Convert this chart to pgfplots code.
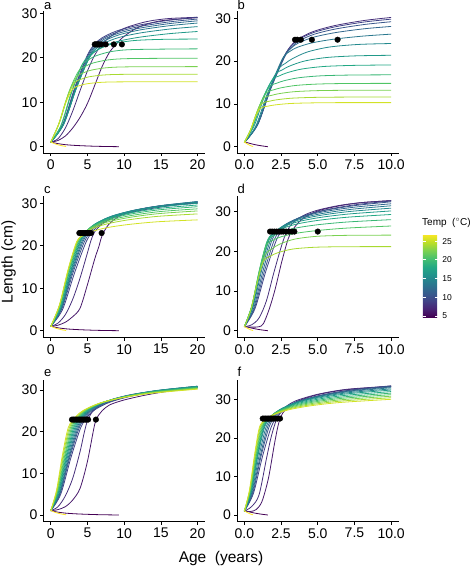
\documentclass[border=0pt]{standalone}
\usepackage{fontspec}
\setmainfont{Liberation Sans}
\usepackage{pgfplots}
\pgfplotsset{compat=1.18}
\definecolor{C0}{RGB}{68,1,84}
\definecolor{C1}{RGB}{71,24,106}
\definecolor{C2}{RGB}{70,47,123}
\definecolor{C3}{RGB}{65,68,135}
\definecolor{C4}{RGB}{57,86,139}
\definecolor{C5}{RGB}{49,103,141}
\definecolor{C6}{RGB}{42,120,142}
\definecolor{C7}{RGB}{35,137,141}
\definecolor{C8}{RGB}{33,153,137}
\definecolor{C9}{RGB}{34,168,132}
\definecolor{C10}{RGB}{57,183,117}
\definecolor{C11}{RGB}{80,197,101}
\definecolor{C12}{RGB}{122,209,81}
\definecolor{C13}{RGB}{168,218,48}
\definecolor{C14}{RGB}{210,226,38}
\definecolor{C15}{RGB}{253,231,37}
\pgfplotsset{colormap={vir}{rgb255=(68,1,84) rgb255=(72,36,117) rgb255=(65,68,135) rgb255=(53,95,141) rgb255=(42,120,142) rgb255=(33,145,140) rgb255=(34,168,132) rgb255=(68,191,112) rgb255=(122,209,81) rgb255=(189,223,38) rgb255=(253,231,37)}}
\pgfplotsset{
 panel/.style={
  scale only axis, width=161.5pt, height=142pt,
  axis x line*=bottom, axis y line*=left,
  axis line style={-, line width=0.6pt, black},
  tick align=outside, major tick length=3pt,
  tick style={black, line width=0.6pt},
  ticklabel style={font=\fontsize{14}{14}\selectfont, text=black},
  yticklabel style={xshift=0.5pt},
  /pgf/number format/assume math mode=true,
  ytick={0,10,20,30},
 },
 panelA/.style={panel, xmin=-1, xmax=21, xtick={0,5,10,15,20}},
 panelB/.style={panel, xmin=-0.5, xmax=10.5, xtick={0,2.5,5,7.5,10}, xticklabels={0.0,2.5,5.0,7.5,10.0}},
 crv/.style={line width=0.8pt, smooth, no markers},
 dots/.style={only marks, mark=*, mark size=2.8pt, black},
}
\begin{document}
\begin{tikzpicture}
\useasboundingbox (0,0) rectangle (475pt,566pt);
% ---------------- panel a
\begin{axis}[panelA, at={(43.35pt,413pt)}, anchor=south west, ymin=-1.42, ymax=30.51]
\addplot[crv,C0] coordinates {(0,1.1) (0.5,0.85) (1,0.68) (2,0.45) (3,0.32) (4,0.23) (5,0.16) (6,0.1) (7,0.06) (8,0.03) (9.3,0)};
\addplot[crv,C1] coordinates {(0,1) (1,1.4) (2,2.4) (3,4.2) (4,6.6) (5,9.7) (6,13.8) (7,18.0) (8,21.2) (9,23.2) (10,24.8) (12,26.9) (15,28.3) (20,29.0)};
\addplot[crv,C2] coordinates {(0,1) (1,1.8) (2,4.2) (3,8.0) (4,12.6) (5,17.0) (6,20.6) (7,23.0) (8,24.6) (10,26.6) (13,28.1) (16,28.8) (20,29.1)};
\addplot[crv,C3] coordinates {(0,1) (1.67,5.12) (3.33,13.54) (5.0,20.6) (6,23.06) (7,24.48) (9,26.03) (12,27.32) (16,28.4) (20,29.1)};
\addplot[crv,C4] coordinates {(0,1) (1.7,5.12) (3.4,13.54) (5.1,20.6) (6.1,22.95) (7.1,24.3) (9.1,25.78) (12.1,27.02) (16.1,28.05) (20,28.7)};
\addplot[crv,C5] coordinates {(0,1) (1.73,5.1) (3.47,13.48) (5.2,20.5) (6.2,22.77) (7.2,24.07) (9.2,25.49) (12.2,26.68) (16.2,27.68) (20,28.3)};
\addplot[crv,C6] coordinates {(0,1) (1.77,5.07) (3.53,13.42) (5.3,20.4) (6.3,22.56) (7.3,23.79) (9.3,25.15) (12.3,26.29) (16.3,27.23) (20,27.8)};
\addplot[crv,C7] coordinates {(0,1) (1.77,5.03) (3.53,13.29) (5.3,20.2) (6.3,22.18) (7.3,23.32) (9.3,24.56) (12.3,25.6) (16.3,26.47) (20,27.0)};
\addplot[crv,C8] coordinates {(0,1) (1.73,4.95) (3.47,13.03) (5.2,19.8) (6.2,21.58) (7.2,22.59) (9.2,23.71) (12.2,24.64) (16.2,25.42) (20,25.9)};
\addplot[crv,C9] coordinates {(0,1) (1.47,4.92) (2.93,12.57) (4.4,18.8) (5.4,20.58) (6.4,21.78) (8.4,23.11) (11.4,23.87) (15.4,24.14) (20,24.2)};
\addplot[crv,C10] coordinates {(0,1) (1.4,4.78) (2.8,12.18) (4.2,18.2) (5.2,19.58) (6.2,20.45) (8.2,21.37) (11.2,21.84) (20,22.0)};
\addplot[crv,C11] coordinates {(0,1) (1.27,5.8) (2.53,12.52) (3.8,17.0) (4.8,18.14) (5.8,18.83) (7.8,19.51) (10.8,19.81) (20,19.9)};
\addplot[crv,C12] coordinates {(0,1) (1.17,5.38) (2.33,11.51) (3.5,15.6) (4.5,16.62) (5.5,17.2) (7.5,17.73) (10.5,17.95) (20,18.0)};
\addplot[crv,C13] coordinates {(0,1) (1.07,4.99) (2.13,10.58) (3.2,14.3) (4.2,15.2) (5.2,15.7) (7.2,16.12) (10.2,16.27) (20,16.3)};
\addplot[crv,C14] coordinates {(0,1) (1.0,4.6) (2.0,9.64) (3.0,13.0) (4,13.76) (5,14.16) (7,14.48) (10,14.58) (20,14.6)};
\addplot[crv,C15] coordinates {(0,1.1) (0.5,0.7) (1,0.42) (1.5,0.22) (2.1,0.05)};
\addplot[dots] coordinates {(6.0,23) (6.15,23) (6.3,23) (6.45,23) (6.6,23) (6.9,23) (7.5,23) (8.6,23) (9.7,23)};
\end{axis}
% ---------------- panel b
\begin{axis}[panelB, at={(237pt,413pt)}, anchor=south west, ymin=-1.47, ymax=31.71]
\addplot[crv,C0] coordinates {(0,1.2) (0.2,0.95) (0.4,0.75) (0.7,0.5) (1.0,0.3) (1.3,0.14) (1.6,0)};
\addplot[crv,C2] coordinates {(0,1) (0.9,5.2) (1.8,13.8) (2.7,21) (3.2,23.69) (3.7,25.23) (4.7,26.92) (6.2,28.33) (8.2,29.51) (10,30.2)};
\addplot[crv,C3] coordinates {(0,1) (0.9,5.2) (1.8,13.8) (2.7,21) (3.2,23.57) (3.7,25.05) (4.7,26.66) (6.2,28.02) (8.2,29.15) (10,29.8)};
\addplot[crv,C4] coordinates {(0,1) (0.92,5.2) (1.83,13.8) (2.75,21) (3.25,23.4) (3.75,24.77) (4.75,26.27) (6.25,27.53) (8.25,28.59) (10,29.2)};
\addplot[crv,C5] coordinates {(0,1) (0.9,5.2) (1.8,13.8) (2.7,21) (3.2,23.07) (3.7,24.26) (4.7,25.57) (6.2,26.66) (8.2,27.57) (10,28.1)};
\addplot[crv,C6] coordinates {(0,1) (0.87,5.12) (1.73,13.54) (2.6,20.6) (3.1,22.26) (3.6,23.21) (4.6,24.25) (6.1,25.13) (8.1,25.85) (10,26.3)};
\addplot[crv,C7] coordinates {(0,1) (0.77,4.74) (1.53,12.05) (2.3,18.0) (2.8,19.49) (3.3,20.62) (4.3,22.14) (5.8,23.29) (7.8,23.9) (10,24.11)};
\addplot[crv,C8] coordinates {(0,1) (0.7,5.11) (1.4,12.06) (2.1,16.8) (2.6,17.99) (3.1,18.87) (4.1,20.02) (5.6,20.84) (7.6,21.23) (10,21.36)};
\addplot[crv,C9] coordinates {(0,1) (0.63,5.09) (1.27,11.37) (1.9,15.6) (2.4,16.57) (2.9,17.27) (3.9,18.14) (5.4,18.74) (7.4,19.0) (10,19.1)};
\addplot[crv,C10] coordinates {(0,1) (0.57,4.9) (1.13,10.36) (1.7,14.0) (2.2,14.83) (2.7,15.41) (3.7,16.11) (5.2,16.56) (7.2,16.74) (10,16.8)};
\addplot[crv,C11] coordinates {(0,1) (0.5,4.48) (1.0,9.35) (1.5,12.6) (2.0,13.29) (2.5,13.76) (3.5,14.31) (5.0,14.64) (7.0,14.77) (10,14.8)};
\addplot[crv,C12] coordinates {(0,1) (0.45,4.12) (0.9,8.49) (1.35,11.4) (1.85,11.99) (2.35,12.39) (3.35,12.84) (4.85,13.09) (6.85,13.18) (10,13.2)};
\addplot[crv,C13] coordinates {(0,1) (0.4,3.73) (0.8,7.55) (1.2,10.1) (1.7,10.62) (2.2,10.96) (3.2,11.33) (4.7,11.52) (6.7,11.59) (10,11.6)};
\addplot[crv,C14] coordinates {(0,1) (0.37,3.4) (0.73,6.76) (1.1,9.0) (1.6,9.47) (2.1,9.77) (3.1,10.09) (4.6,10.24) (6.6,10.3) (10,10.3)};
\addplot[crv,C15] coordinates {(0,1.1) (0.15,0.75) (0.3,0.45) (0.45,0.2) (0.6,0.05)};
\addplot[dots] coordinates {(3.45,25) (3.6,25) (3.85,25) (4.6,25) (6.35,25)};
\end{axis}
% ---------------- panel c
\begin{axis}[panelA, at={(43.35pt,228.3pt)}, anchor=south west, ymin=-1.65, ymax=31.79]
\addplot[crv,C0] coordinates {(0,1.1) (0.5,0.85) (1,0.68) (2,0.45) (3,0.32) (4,0.23) (5,0.16) (6,0.1) (7,0.06) (8,0.03) (9.3,0)};
\addplot[crv,C1] coordinates {(0,1) (1,1.3) (2,2.0) (3,3.3) (4,5.3) (5,10.8) (6,16.9) (6.6,20.0) (7,22.4) (8,25.2) (10,27.6) (13,28.9) (16,29.6) (20,30.0)};
\addplot[crv,C2] coordinates {(0,1) (1,1.8) (2,3.8) (3,7.4) (4,12.4) (5,18.3) (5.5,21.3) (6,23.3) (7,25.1) (9,27.0) (12,28.4) (16,29.5) (20,30.1)};
\addplot[crv,C3] coordinates {(0,1) (1.62,5.0) (3.23,13.5) (4.85,21) (5.85,23.63) (6.85,25.14) (8.85,26.79) (11.85,28.18) (15.85,29.33) (20,30.2)};
\addplot[crv,C4] coordinates {(0,1) (1.53,5.2) (3.07,13.8) (4.6,21) (5.6,23.66) (6.6,25.18) (8.6,26.85) (11.6,28.25) (15.6,29.42) (20,30.3)};
\addplot[crv,C5] coordinates {(0,1) (1.47,5.2) (2.93,13.8) (4.4,21) (5.4,23.69) (6.4,25.23) (8.4,26.92) (11.4,28.33) (15.4,29.51) (20,30.4)};
\addplot[crv,C6] coordinates {(0,1) (1.42,5.2) (2.83,13.8) (4.25,21) (5.25,23.69) (6.25,25.23) (8.25,26.92) (11.25,28.33) (15.25,29.51) (20,30.4)};
\addplot[crv,C7] coordinates {(0,1) (1.37,5.2) (2.73,13.8) (4.1,21) (5.1,23.66) (6.1,25.18) (8.1,26.85) (11.1,28.25) (15.1,29.42) (20,30.3)};
\addplot[crv,C8] coordinates {(0,1) (1.33,5.2) (2.67,13.8) (4.0,21) (5,23.59) (6,25.08) (8,26.7) (11,28.07) (15,29.2) (20,30.0)};
\addplot[crv,C9] coordinates {(0,1) (1.3,5.6) (2.6,14.1) (3.9,21) (4.9,23.47) (5.9,24.89) (7.9,26.45) (10.9,27.75) (14.9,28.83) (20,29.6)};
\addplot[crv,C10] coordinates {(0,1) (1.27,5.6) (2.53,14.1) (3.8,21) (4.8,23.36) (5.8,24.71) (7.8,26.2) (10.8,27.44) (14.8,28.47) (20,29.2)};
\addplot[crv,C11] coordinates {(0,1) (1.23,6.0) (2.47,14.4) (3.7,21) (4.7,23.22) (5.7,24.49) (7.7,25.88) (10.7,27.04) (14.7,28.02) (20,28.7)};
\addplot[crv,C12] coordinates {(0,1) (1.22,6.0) (2.43,14.4) (3.65,21) (4.65,23.07) (5.65,24.26) (7.65,25.56) (10.65,26.65) (14.65,27.56) (20,28.2)};
\addplot[crv,C13] coordinates {(0,1) (1.2,6.0) (2.4,14.4) (3.6,21) (4.6,22.87) (5.6,23.95) (7.6,25.12) (10.6,26.11) (14.6,26.93) (20,27.5)};
\addplot[crv,C14] coordinates {(0,1) (1.18,6.0) (2.37,14.4) (3.55,21) (4.55,22.47) (5.55,23.31) (7.55,24.23) (10.55,25.0) (14.55,25.65) (20,26.1)};
\addplot[crv,C15] coordinates {(0,1.1) (0.5,0.7) (1,0.42) (1.5,0.22) (2.1,0.05)};
\addplot[dots] coordinates {(3.9,23) (4.1,23) (4.3,23) (4.5,23) (4.7,23) (4.9,23) (5.1,23) (5.3,23) (5.5,23) (6.94,23)};
\end{axis}
% ---------------- panel d (with colour bar)
\begin{axis}[panelB, at={(237pt,228.3pt)}, anchor=south west, ymin=-1.76, ymax=34.04,
  colormap name=vir, point meta min=4.7, point meta max=26.9,
  colorbar, colorbar shift/.style={xshift=0pt},
  colorbar style={scale only axis, width=16pt, height=83pt, at={(1.201,0.438)}, anchor=center,
    axis lines=box, axis line style={draw=none}, xtick=\empty, xticklabels={},
    ytick={5,10,15,20,25}, yticklabels={5,10,15,20,25}, yticklabel pos=right, ytick pos=both,
    tick align=inside, major tick length=3.5pt, ytick style={white, line width=0.6pt},
    yticklabel style={font=\fontsize{8.5}{8.5}\selectfont, text=black},
    /pgf/number format/assume math mode=true}]
\addplot[crv,C0] coordinates {(0,1.2) (0.2,0.95) (0.4,0.75) (0.7,0.5) (1.0,0.3) (1.3,0.14) (1.6,0)};
\addplot[crv,C1] coordinates {(0,1) (0.5,0.9) (1,1.0) (1.3,1.8) (1.7,5.5) (2.1,10.5) (2.55,17.4) (3.0,23.3) (3.4,26.0) (4,28.3) (5,30.2) (6.5,31.5) (8,32.3) (10,32.8)};
\addplot[crv,C2] coordinates {(0,1) (0.5,1.5) (1,3.2) (1.5,7.5) (2,14.5) (2.5,21.0) (2.8,24.2) (3.2,26.8) (4,29.0) (5,30.4) (6.5,31.6) (8,32.3) (10,32.8)};
\addplot[crv,C3] coordinates {(0,1) (0.73,5.62) (1.47,15.08) (2.2,23) (2.7,25.79) (3.2,27.39) (4.2,29.14) (5.7,30.6) (7.7,31.83) (10,32.7)};
\addplot[crv,C4] coordinates {(0,1) (0.68,5.62) (1.37,15.08) (2.05,23) (2.55,25.7) (3.05,27.25) (4.05,28.95) (5.55,30.38) (7.55,31.56) (10,32.5)};
\addplot[crv,C5] coordinates {(0,1) (0.63,5.62) (1.27,15.08) (1.9,23) (2.4,25.56) (2.9,27.03) (3.9,28.64) (5.4,29.99) (7.4,31.11) (10,32.0)};
\addplot[crv,C6] coordinates {(0,1) (0.6,6.06) (1.2,15.52) (1.8,23) (2.3,25.4) (2.8,26.78) (3.8,28.29) (5.3,29.55) (7.3,30.61) (10,31.5)};
\addplot[crv,C7] coordinates {(0,1) (0.57,6.06) (1.13,15.52) (1.7,23) (2.2,25.23) (2.7,26.51) (3.7,27.92) (5.2,29.09) (7.2,30.07) (10,30.9)};
\addplot[crv,C8] coordinates {(0,1) (0.55,6.5) (1.1,15.74) (1.65,23) (2.15,25.03) (2.65,26.2) (3.65,27.48) (5.15,28.55) (7.15,29.44) (10,30.2)};
\addplot[crv,C9] coordinates {(0,1) (0.53,6.5) (1.07,15.74) (1.6,23) (2.1,24.78) (2.6,25.8) (3.6,26.92) (5.1,27.86) (7.1,28.64) (10,29.3)};
\addplot[crv,C10] coordinates {(0,1) (0.52,6.38) (1.03,15.41) (1.55,22.5) (2.05,24.05) (2.55,24.94) (3.55,25.92) (5.05,26.74) (7.05,27.42) (10,28.0)};
\addplot[crv,C11] coordinates {(0,1) (0.5,6.13) (1.0,14.74) (1.5,21.5) (2.0,22.88) (2.5,23.68) (3.5,24.55) (5.0,25.27) (7.0,25.88) (10,26.4)};
\addplot[crv,C12] coordinates {(0,1) (0.47,5.5) (0.93,13.06) (1.4,19.0) (1.9,20.68) (2.4,21.81) (3.4,23.07) (4.9,23.79) (6.9,24.04) (10,24.1)};
\addplot[crv,C13] coordinates {(0,1) (0.43,5.13) (0.87,12.06) (1.3,17.5) (1.8,18.84) (2.3,19.69) (3.3,20.59) (4.8,21.04) (6.8,21.18) (10,21.2)};
\addplot[crv,C15] coordinates {(0,1.1) (0.15,0.75) (0.3,0.45) (0.45,0.2) (0.6,0.05)};
\addplot[dots] coordinates {(1.75,25) (1.9,25) (2.05,25) (2.2,25) (2.35,25) (2.5,25) (2.65,25) (2.85,25) (3.05,25) (3.25,25) (3.41,25) (5.0,25)};
\end{axis}
% ---------------- panel e
\begin{axis}[panelA, at={(43.35pt,44.3pt)}, anchor=south west, ymin=-1.61, ymax=32.47]
\addplot[crv,C0] coordinates {(0,1.1) (0.5,0.85) (1,0.68) (2,0.45) (3,0.32) (4,0.23) (5,0.16) (6,0.1) (7,0.06) (8,0.03) (9.3,0)};
\addplot[crv,C1] coordinates {(0,1) (1,1.3) (2,2.0) (3,3.6) (4,6.4) (5,12.8) (6,21.8) (6.5,23.9) (7,25.0) (8,26.4) (10,27.6) (13,28.8) (16,29.7) (20,30.6)};
\addplot[crv,C2] coordinates {(0,1) (1,2.0) (2,4.6) (3,8.8) (4,15.2) (4.6,20.0) (5.1,23.0) (6,25.4) (8,27.5) (11,28.9) (15,29.9) (20,30.7)};
\addplot[crv,C3] coordinates {(0,1) (1.37,5.0) (2.73,13.6) (4.1,21) (5.1,23.77) (6.1,25.36) (8.1,27.1) (11.1,28.56) (15.1,29.78) (20,30.8)};
\addplot[crv,C4] coordinates {(0,1) (1.3,5.2) (2.6,13.8) (3.9,21) (4.9,23.77) (5.9,25.36) (7.9,27.1) (10.9,28.56) (14.9,29.78) (20,30.8)};
\addplot[crv,C5] coordinates {(0,1) (1.25,5.2) (2.5,13.8) (3.75,21) (4.75,23.8) (5.75,25.41) (7.75,27.17) (10.75,28.65) (14.75,29.88) (20,30.9)};
\addplot[crv,C6] coordinates {(0,1) (1.2,5.2) (2.4,13.8) (3.6,21) (4.6,23.8) (5.6,25.41) (7.6,27.17) (10.6,28.65) (14.6,29.88) (20,30.9)};
\addplot[crv,C7] coordinates {(0,1) (1.15,5.4) (2.3,14.0) (3.45,21) (4.45,23.8) (5.45,25.41) (7.45,27.17) (10.45,28.65) (14.45,29.88) (20,30.9)};
\addplot[crv,C8] coordinates {(0,1) (1.1,5.6) (2.2,14.1) (3.3,21) (4.3,23.77) (5.3,25.36) (7.3,27.1) (10.3,28.56) (14.3,29.78) (20,30.8)};
\addplot[crv,C9] coordinates {(0,1) (1.05,5.6) (2.1,14.1) (3.15,21) (4.15,23.74) (5.15,25.31) (7.15,27.04) (10.15,28.48) (14.15,29.68) (20,30.7)};
\addplot[crv,C10] coordinates {(0,1) (1.0,5.8) (2.0,14.2) (3.0,21) (4,23.71) (5,25.26) (7,26.97) (10,28.39) (14,29.58) (20,30.6)};
\addplot[crv,C11] coordinates {(0,1) (0.95,5.8) (1.9,14.2) (2.85,21) (3.85,23.67) (4.85,25.2) (6.85,26.88) (9.85,28.29) (13.85,29.46) (20,30.5)};
\addplot[crv,C12] coordinates {(0,1) (0.9,6.0) (1.8,14.4) (2.7,21) (3.7,23.64) (4.7,25.15) (6.7,26.81) (9.7,28.2) (13.7,29.35) (20,30.4)};
\addplot[crv,C13] coordinates {(0,1) (0.85,6.0) (1.7,14.4) (2.55,21) (3.55,23.61) (4.55,25.1) (6.55,26.74) (9.55,28.11) (13.55,29.25) (20,30.3)};
\addplot[crv,C14] coordinates {(0,1) (0.8,6.0) (1.6,14.4) (2.4,21) (3.4,23.57) (4.4,25.05) (6.4,26.66) (9.4,28.02) (13.4,29.15) (20,30.2)};
\addplot[crv,C15] coordinates {(0,1.1) (0.5,0.7) (1,0.42) (1.5,0.22) (2.1,0.05)};
\addplot[dots] coordinates {(2.9,22.9) (3.1,22.9) (3.3,22.9) (3.5,22.9) (3.7,22.9) (3.9,22.9) (4.1,22.9) (4.3,22.9) (4.5,22.9) (4.7,22.9) (4.9,22.9) (5.1,22.9) (6.16,22.9)};
\end{axis}
% ---------------- panel f
\begin{axis}[panelB, at={(237pt,44.3pt)}, anchor=south west, ymin=-1.74, ymax=35.08]
\addplot[crv,C0] coordinates {(0,1.2) (0.2,0.95) (0.4,0.75) (0.7,0.5) (1.0,0.3) (1.3,0.14) (1.6,0)};
\addplot[crv,C1] coordinates {(0,1) (0.4,0.9) (0.8,1.4) (1.2,3.5) (1.64,9.5) (2.04,18.2) (2.3,23.2) (2.5,25.6) (2.8,27.3) (3.5,29.3) (5,31.2) (7,32.5) (10,33.3)};
\addplot[crv,C2] coordinates {(0,1) (0.5,2.2) (1,5.2) (1.5,14.5) (1.8,19.8) (2.1,23.8) (2.4,26.3) (2.8,28.0) (3.5,29.6) (5,31.3) (7,32.6) (10,33.4)};
\addplot[crv,C3] coordinates {(0,1) (0.62,5.62) (1.23,15.08) (1.85,23) (2.35,25.99) (2.85,27.7) (3.85,29.58) (5.35,31.15) (7.35,32.46) (10,33.5)};
\addplot[crv,C4] coordinates {(0,1) (0.57,5.62) (1.13,15.08) (1.7,23) (2.2,25.95) (2.7,27.64) (3.7,29.49) (5.2,31.04) (7.2,32.33) (10,33.4)};
\addplot[crv,C5] coordinates {(0,1) (0.53,5.62) (1.07,15.08) (1.6,23) (2.1,25.88) (2.6,27.53) (3.6,29.34) (5.1,30.86) (7.1,32.12) (10,33.2)};
\addplot[crv,C6] coordinates {(0,1) (0.5,5.8) (1.0,15.3) (1.5,23) (2.0,25.82) (2.5,27.43) (3.5,29.2) (5.0,30.68) (7.0,31.92) (10,33.0)};
\addplot[crv,C7] coordinates {(0,1) (0.47,5.9) (0.93,15.4) (1.4,23) (1.9,25.73) (2.4,27.29) (3.4,29.0) (4.9,30.44) (6.9,31.63) (10,32.7)};
\addplot[crv,C8] coordinates {(0,1) (0.45,6.1) (0.9,15.5) (1.35,23) (1.85,25.64) (2.35,27.15) (3.35,28.81) (4.85,30.2) (6.85,31.35) (10,32.4)};
\addplot[crv,C9] coordinates {(0,1) (0.43,6.1) (0.87,15.5) (1.3,23) (1.8,25.52) (2.3,26.97) (3.3,28.55) (4.8,29.88) (6.8,30.99) (10,32.0)};
\addplot[crv,C10] coordinates {(0,1) (0.42,6.3) (0.83,15.6) (1.25,23) (1.75,25.41) (2.25,26.78) (3.25,28.3) (4.75,29.56) (6.75,30.62) (10,31.6)};
\addplot[crv,C11] coordinates {(0,1) (0.4,6.3) (0.8,15.6) (1.2,23) (1.7,25.29) (2.2,26.61) (3.2,28.05) (4.7,29.26) (6.7,30.27) (10,31.2)};
\addplot[crv,C12] coordinates {(0,1) (0.38,6.5) (0.77,15.74) (1.15,23) (1.65,25.18) (2.15,26.43) (3.15,27.8) (4.65,28.94) (6.65,29.9) (10,30.8)};
\addplot[crv,C13] coordinates {(0,1) (0.37,6.5) (0.73,15.74) (1.1,23) (1.6,25.06) (2.1,26.25) (3.1,27.55) (4.6,28.63) (6.6,29.54) (10,30.4)};
\addplot[crv,C14] coordinates {(0,1) (0.35,6.5) (0.7,15.74) (1.05,23) (1.55,24.95) (2.05,26.07) (3.05,27.3) (4.55,28.33) (6.55,29.18) (10,30.0)};
\addplot[crv,C15] coordinates {(0,1.1) (0.15,0.75) (0.3,0.45) (0.45,0.2) (0.6,0.05)};
\addplot[dots] coordinates {(1.25,25) (1.35,25) (1.45,25) (1.55,25) (1.65,25) (1.75,25) (1.85,25) (1.95,25) (2.1,25) (2.25,25) (2.43,25)};
\end{axis}
% ---------------- texts
\node[anchor=base west, font=\fontsize{13}{13}\selectfont, inner sep=0pt] at (44pt,556.5pt) {a};
\node[anchor=base west, font=\fontsize{13}{13}\selectfont, inner sep=0pt] at (237.5pt,556.5pt) {b};
\node[anchor=base west, font=\fontsize{13}{13}\selectfont, inner sep=0pt] at (44pt,372.5pt) {c};
\node[anchor=base west, font=\fontsize{13}{13}\selectfont, inner sep=0pt] at (237.5pt,372.5pt) {d};
\node[anchor=base west, font=\fontsize{13}{13}\selectfont, inner sep=0pt] at (44pt,189pt) {e};
\node[anchor=base west, font=\fontsize{13}{13}\selectfont, inner sep=0pt] at (237.5pt,189pt) {f};
\node[rotate=90, anchor=center, font=\fontsize{15.5}{15.5}\selectfont, inner sep=0pt] at (8.5pt,304pt) {Length (cm)};
\node[anchor=base, font=\fontsize{15.5}{15.5}\selectfont, inner sep=0pt] at (221pt,3pt) {Age\ \ (years)};
\node[anchor=west, font=\fontsize{10}{10}\selectfont, inner sep=0pt] at (422pt,343pt) {Temp \ (${}^{\circ}$C)};
\end{tikzpicture}
\end{document}
